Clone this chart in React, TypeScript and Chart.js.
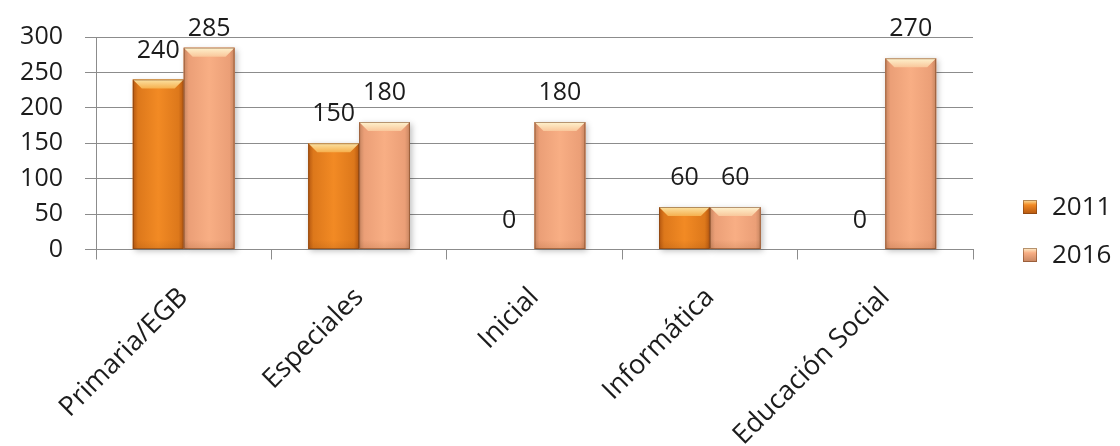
import React, { useEffect, useRef } from "react";
import { Chart, registerables } from "chart.js";

Chart.register(...registerables);

const categories = ["Primaria/EGB", "Especiales", "Inicial", "Informática", "Educación Social"];
const series2011 = [240, 150, 0, 60, 0];
const series2016 = [285, 180, 180, 60, 270];
const seriesNames = ["2011", "2016"];
const yMin = 0;
const yMax = 300;
const yStep = 50;

const FONT = "'Open Sans', 'DejaVu Sans', sans-serif";
const TEXT = "#1c1c1c";
const GRID = "#8c8c8c";

const palettes = [
  {
    edge: "#b45710",
    side: "#dd781b",
    mid: "#f28a24",
    topA: "#fbe3a4",
    topB: "#f6b04e",
    legend: "#e07b1d",
  },
  {
    edge: "#c68560",
    side: "#eb9f77",
    mid: "#f8ae84",
    topA: "#fef3cf",
    topB: "#f9c79b",
    legend: "#eea17a",
  },
];

const barStylePlugin = {
  id: "barStyle",
  afterDatasetsDraw(chart: any) {
    const ctx = chart.ctx as CanvasRenderingContext2D;
    const bars: any[] = [];
    chart.data.datasets.forEach((ds: any, di: number) => {
      const meta = chart.getDatasetMeta(di);
      meta.data.forEach((el: any, i: number) => {
        bars.push({ el, di, v: ds.data[i] });
      });
    });
    ctx.save();
    // shadows
    bars.forEach(({ el, di, v }) => {
      if (!v) return;
      const x0 = el.x - el.width / 2;
      const w = el.width;
      const top = el.y;
      const h = el.base - el.y;
      ctx.save();
      ctx.shadowColor = "rgba(0,0,0,0.25)";
      ctx.shadowBlur = 6;
      ctx.shadowOffsetX = 2;
      ctx.shadowOffsetY = 2;
      ctx.fillStyle = palettes[di].mid;
      ctx.fillRect(x0, top, w, h);
      ctx.restore();
    });
    bars.forEach(({ el, di, v }) => {
      if (!v) return;
      const p = palettes[di];
      const x0 = el.x - el.width / 2;
      const w = el.width;
      const top = el.y;
      const h = el.base - el.y;
      const g = ctx.createLinearGradient(x0, 0, x0 + w, 0);
      g.addColorStop(0, p.edge);
      g.addColorStop(0.1, p.side);
      g.addColorStop(0.5, p.mid);
      g.addColorStop(0.9, p.side);
      g.addColorStop(1, p.edge);
      ctx.fillStyle = g;
      ctx.fillRect(x0, top, w, h);
      const bev = Math.min(9, h / 2);
      const tg = ctx.createLinearGradient(0, top, 0, top + bev);
      tg.addColorStop(0, p.topA);
      tg.addColorStop(1, p.topB);
      ctx.fillStyle = tg;
      ctx.beginPath();
      ctx.moveTo(x0, top);
      ctx.lineTo(x0 + w, top);
      ctx.lineTo(x0 + w - bev, top + bev);
      ctx.lineTo(x0 + bev, top + bev);
      ctx.closePath();
      ctx.fill();
      const bg = ctx.createLinearGradient(0, top + h - bev, 0, top + h);
      bg.addColorStop(0, "rgba(120,55,10,0)");
      bg.addColorStop(1, "rgba(120,55,10,0.15)");
      ctx.fillStyle = bg;
      ctx.fillRect(x0, top + h - bev, w, bev);
      ctx.strokeStyle = "rgba(110,55,20,0.5)";
      ctx.lineWidth = 1;
      ctx.strokeRect(x0 + 0.5, top + 0.5, w - 1, h - 1);
    });
    // data labels
    ctx.fillStyle = TEXT;
    ctx.font = `25px ${FONT}`;
    ctx.textAlign = "center";
    ctx.textBaseline = "alphabetic";
    const minBaseline = chart.chartArea.top - 1;
    bars.forEach(({ el, v }) => {
      ctx.fillText(String(v), el.x, Math.max(el.y - 22, minBaseline));
    });
    ctx.restore();
  },
};

const legendPlugin = {
  id: "sideLegend",
  afterDraw(chart: any) {
    const ctx = chart.ctx as CanvasRenderingContext2D;
    const x = chart.chartArea.right + 50;
    const ys = [207, 255];
    ctx.save();
    seriesNames.forEach((name, i) => {
      const p = palettes[i];
      const cy = ys[i];
      const g = ctx.createLinearGradient(0, cy - 7, 0, cy + 7);
      g.addColorStop(0, p.topA);
      g.addColorStop(0.35, p.mid);
      g.addColorStop(1, p.edge);
      ctx.fillStyle = g;
      ctx.fillRect(x, cy - 7, 14, 14);
      ctx.strokeStyle = "rgba(110,55,20,0.5)";
      ctx.strokeRect(x + 0.5, cy - 6.5, 13, 13);
      ctx.fillStyle = TEXT;
      ctx.font = `26px ${FONT}`;
      ctx.textAlign = "left";
      ctx.textBaseline = "middle";
      ctx.fillText(name, x + 29, cy + 1);
    });
    ctx.restore();
  },
};

export default function App() {
  const ref = useRef<HTMLCanvasElement | null>(null);
  useEffect(() => {
    if (!ref.current) return;
    const chart = new Chart(ref.current, {
      type: "bar",
      data: {
        labels: categories,
        datasets: [
          {
            label: seriesNames[0],
            data: series2011,
            backgroundColor: palettes[0].mid,
            borderWidth: 0,
            barPercentage: 1,
            categoryPercentage: 0.58,
          },
          {
            label: seriesNames[1],
            data: series2016,
            backgroundColor: palettes[1].mid,
            borderWidth: 0,
            barPercentage: 1,
            categoryPercentage: 0.58,
          },
        ],
      },
      options: {
        animation: false,
        responsive: false,
        maintainAspectRatio: false,
        devicePixelRatio: 1,
        layout: { padding: { left: 0, top: 36, right: 147, bottom: 0 } },
        plugins: {
          legend: { display: false },
          tooltip: { enabled: false },
        },
        scales: {
          x: {
            grid: {
              offset: true,
              drawOnChartArea: false,
              tickLength: 10,
              color: GRID,
            },
            border: { color: GRID },
            ticks: {
              maxRotation: 45,
              minRotation: 45,
              padding: 22,
              color: TEXT,
              font: { family: FONT, size: 27 },
            },
            afterFit(scale: any) {
              scale.height = 196.5;
            },
          },
          y: {
            min: yMin,
            max: yMax,
            ticks: {
              stepSize: yStep,
              padding: 22,
              color: TEXT,
              font: { family: FONT, size: 25 },
            },
            grid: { color: GRID, tickLength: 11 },
            border: { color: GRID },
            afterFit(scale: any) {
              scale.width = 96;
            },
          },
        },
      },
      plugins: [barStylePlugin, legendPlugin],
    });
    return () => chart.destroy();
  }, []);
  return (
    <div style={{ position: "fixed", left: 0, top: 0, width: 1120, height: 446, background: "#fff" }}>
      <canvas ref={ref} width={1120} height={446} style={{ width: 1120, height: 446, display: "block" }} />
    </div>
  );
}
